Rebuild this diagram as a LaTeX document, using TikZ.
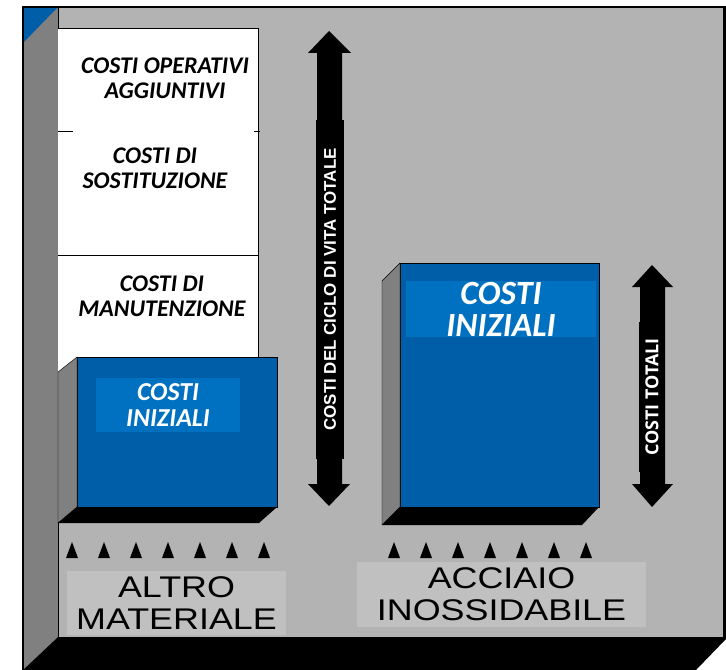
\documentclass[tikz,border=0pt]{standalone}
\usepackage{fontspec}
\setmainfont{Liberation Sans}
\newfontfamily\calib{Carlito}
\newfontfamily\wideface[FakeStretch=1.2]{Liberation Sans}
\newfontfamily\opensans{Open Sans}
\usetikzlibrary{positioning}

\definecolor{wallgray}{HTML}{B3B3B3}
\definecolor{sidegray}{HTML}{808080}
\definecolor{boxblue}{HTML}{005EA8}
\definecolor{lightblue}{HTML}{0070C0}
\definecolor{labelgray}{HTML}{C0C0C0}

\tikzset{
	costtext/.style={align=center, inner sep=0pt, font=\calib\bfseries\itshape\fontsize{24}{25}\selectfont},
	inittext/.style={align=center, inner sep=0pt, fill=lightblue, text=white},
	arrowtext/.style={rotate=90, fill=black, text=white, inner sep=0pt},
	mattext/.style={fill=labelgray, align=center, inner sep=0pt, font=\wideface\fontsize{30}{32}\selectfont}
}

\begin{document}
\begin{tikzpicture}[x=1bp, y=-1bp]
				\useasboundingbox (0,0) rectangle (726,670);
				% walls and floor
				\fill[wallgray] (58,8) rectangle (723,637);
				\fill[sidegray] (23,8) -- (58,8) -- (58,637) -- (23,670) -- cycle;
				\fill[boxblue] (23,8) -- (57,8) -- (23,43) -- cycle;
				\fill (58,637) -- (726,637) -- (726,639) -- (696,670) -- (23,670) -- cycle;
				\draw[line width=2] (22,7) -- (726,7);
				\draw[line width=2] (23,7) -- (23,670);
				\draw (58,8) -- (58,637);
				\fill (723,7) rectangle (726,637);
				
				% white stack
				\fill[white] (58,28) rectangle (258,372);
				\draw (58,28) -- (258,28) -- (258,357);
				\draw (58,131) -- (73,131) (254,131) -- (260,131);
				\draw (58,255) -- (258,255);
				\node (ops) [costtext] at (165,78) {COSTI OPERATIVI\\AGGIUNTIVI};
				\node (sost) [costtext] at (155,168) {COSTI DI\\SOSTITUZIONE};
				\node (manut) [costtext] at (162,296) {COSTI DI\\MANUTENZIONE};
				
				% blue blocks
				\filldraw[fill=boxblue] (77,357) rectangle (277,507);
				\filldraw[fill=sidegray] (58,372) -- (77,357) -- (77,507) -- (58,523) -- cycle;
				\fill (58,523) -- (77,507) -- (277,507) -- (259,523) -- cycle;
				\filldraw[fill=boxblue] (400,263) rectangle (599,507);
				\filldraw[fill=sidegray] (382,281) -- (400,263) -- (400,507) -- (382,525) -- cycle;
				\fill (382,525) -- (400,507) -- (599,507) -- (582,525) -- cycle;
				\node (init1) [inittext, minimum width=144, minimum height=54, font=\calib\bfseries\itshape\fontsize{26}{27}\selectfont] at (168,405) {COSTI\\INIZIALI};
				\node (init2) [inittext, minimum width=190, minimum height=56, font=\calib\bfseries\itshape\fontsize{34}{32}\selectfont] at (501,309) {COSTI\\INIZIALI};
				
				% arrows
				\fill (329,31) -- (351,53) -- (342,53) -- (342,484) -- (350,484) -- (329,506) -- (308,484) -- (317,484) -- (317,53) -- (308,53) -- cycle;
				\node (lifecost) [arrowtext, minimum width=341, minimum height=28, font=\bfseries\fontsize{17}{20}\selectfont] at (330,289.5) {COSTI DEL CICLO DI VITA TOTALE};
				\fill (652,265) -- (673,287) -- (665,287) -- (665,484) -- (673,484) -- (652,507) -- (632,484) -- (640,484) -- (640,287) -- (632,287) -- cycle;
				\node (totcost) [arrowtext, minimum width=150, minimum height=26, font=\opensans\bfseries\fontsize{18}{20}\selectfont] at (652,397) {COSTI TOTALI};
				
				% markers and materials
				\foreach \x in {72,104,...,264} \fill (\x-6,558) -- (\x,542) -- (\x+6,558) -- cycle;
				\foreach \x in {394,426,...,586} \fill (\x-6,558) -- (\x,542) -- (\x+6,558) -- cycle;
				\node (altro) [mattext, minimum width=219, minimum height=64] at (176.5,603) {ALTRO\\MATERIALE};
				\node (inox) [mattext, minimum width=291, minimum height=65] at (501.5,594.5) {ACCIAIO\\INOSSIDABILE};
			\end{tikzpicture}
\end{document}
